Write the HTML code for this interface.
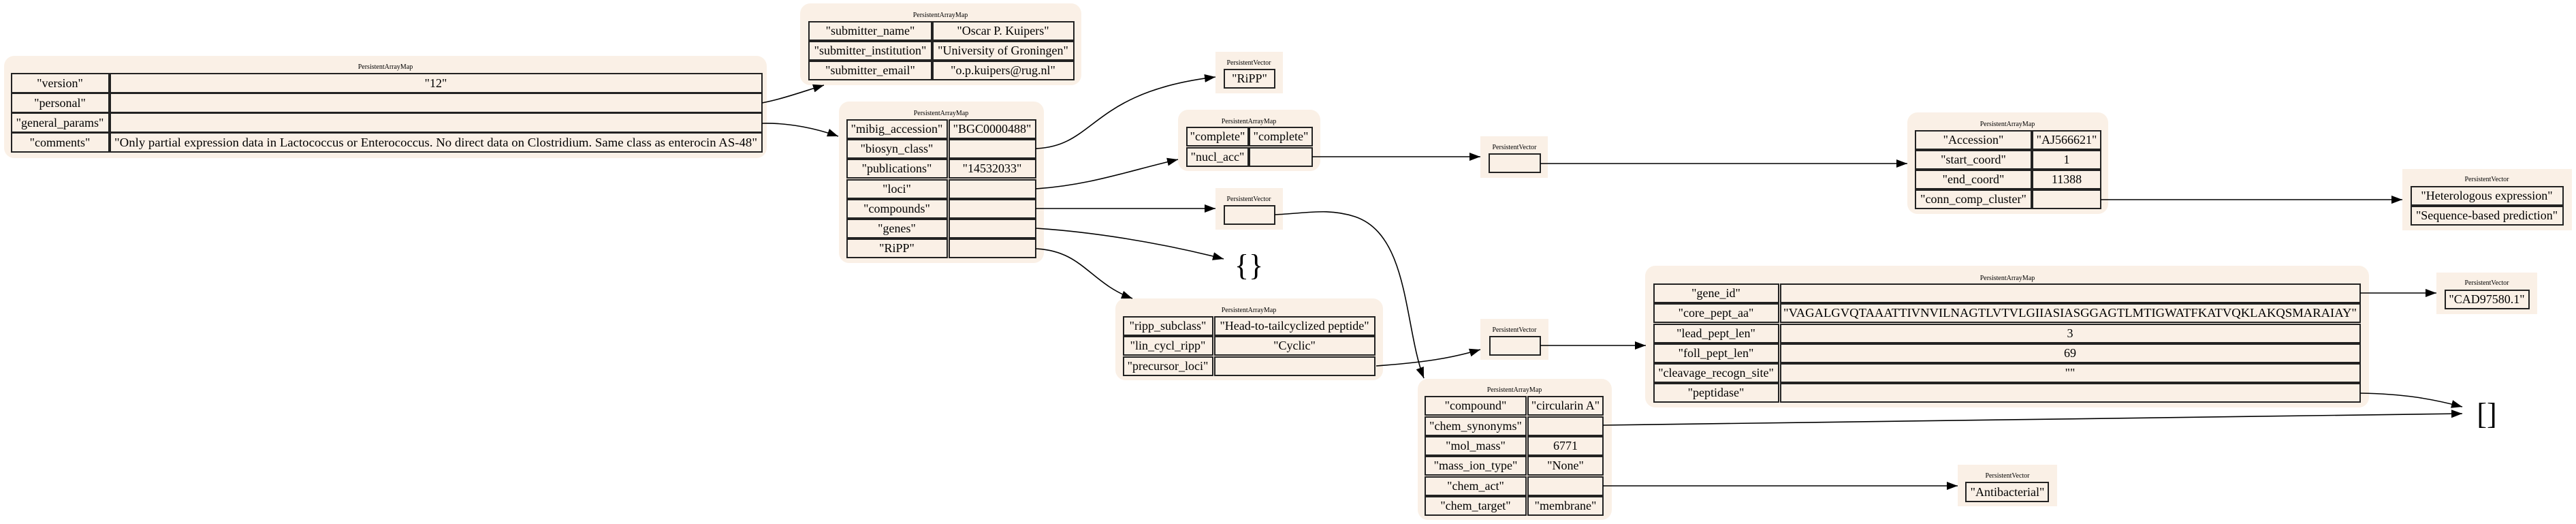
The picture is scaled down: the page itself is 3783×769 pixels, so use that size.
<!DOCTYPE html>
<html><head><meta charset="utf-8"><style>
html,body{margin:0;padding:0;background:#fff;width:3783px;height:769px;overflow:hidden}
svg{display:block}
text{font-family:"Liberation Serif",serif;fill:#000}
.t{font-size:10px}
.c{font-size:18px}
.bg{fill:#faf0e6}
.cell{fill:#faf0e6;stroke:#222;stroke-width:2}
.e{fill:none;stroke:#000;stroke-width:1.6}
</style></head><body>
<svg width="3783" height="769" viewBox="0 0 3783 769" xmlns="http://www.w3.org/2000/svg">
<defs><marker id="a" markerUnits="userSpaceOnUse" markerWidth="18" markerHeight="14" refX="16" refY="6" orient="auto"><path d="M0,0 L16,6 L0,12 z" fill="#000"/></marker></defs>

<!-- Box1 -->
<rect class="bg" x="6" y="82" width="1120" height="150" rx="15"/>
<text class="t" x="566" y="101" text-anchor="middle">PersistentArrayMap</text>
<rect class="cell" x="17" y="108" width="143" height="28"/><rect class="cell" x="162" y="108" width="957" height="28"/>
<rect class="cell" x="17" y="137" width="143" height="28"/><rect class="cell" x="162" y="137" width="957" height="28"/>
<rect class="cell" x="17" y="166" width="143" height="28"/><rect class="cell" x="162" y="166" width="957" height="28"/>
<rect class="cell" x="17" y="195" width="143" height="28"/><rect class="cell" x="162" y="195" width="957" height="28"/>
<text class="c" x="88" y="128" text-anchor="middle">"version"</text><text class="c" x="640" y="128" text-anchor="middle">"12"</text>
<text class="c" x="88" y="157" text-anchor="middle">"personal"</text>
<text class="c" x="88" y="186" text-anchor="middle">"general_params"</text>
<text class="c" x="88" y="215" text-anchor="middle">"comments"</text>
<text class="c" x="640" y="215" text-anchor="middle" textLength="944" lengthAdjust="spacingAndGlyphs">"Only partial  expression data in Lactococcus or Enterococcus. No direct data on Clostridium. Same class as enterocin AS-48"</text>

<!-- Box2 -->
<rect class="bg" x="1175" y="5" width="413" height="120" rx="15"/>
<text class="t" x="1381" y="25" text-anchor="middle">PersistentArrayMap</text>
<rect class="cell" x="1188" y="32" width="180" height="27"/><rect class="cell" x="1370" y="32" width="207" height="27"/>
<rect class="cell" x="1188" y="61" width="180" height="27"/><rect class="cell" x="1370" y="61" width="207" height="27"/>
<rect class="cell" x="1188" y="90" width="180" height="27"/><rect class="cell" x="1370" y="90" width="207" height="27"/>
<text class="c" x="1278" y="51" text-anchor="middle">"submitter_name"</text><text class="c" x="1473" y="51" text-anchor="middle">"Oscar P. Kuipers"</text>
<text class="c" x="1278" y="80" text-anchor="middle">"submitter_institution"</text><text class="c" x="1473" y="80" text-anchor="middle">"University of Groningen"</text>
<text class="c" x="1278" y="109" text-anchor="middle">"submitter_email"</text><text class="c" x="1473" y="109" text-anchor="middle">"o.p.kuipers@rug.nl"</text>

<!-- Box3 -->
<rect class="bg" x="1232" y="149" width="301" height="237" rx="15"/>
<text class="t" x="1382" y="169" text-anchor="middle">PersistentArrayMap</text>
<rect class="cell" x="1244" y="176" width="147" height="27"/><rect class="cell" x="1394" y="176" width="127" height="27"/>
<rect class="cell" x="1244" y="205" width="147" height="27"/><rect class="cell" x="1394" y="205" width="127" height="27"/>
<rect class="cell" x="1244" y="234" width="147" height="27"/><rect class="cell" x="1394" y="234" width="127" height="27"/>
<rect class="cell" x="1244" y="264" width="147" height="27"/><rect class="cell" x="1394" y="264" width="127" height="27"/>
<rect class="cell" x="1244" y="293" width="147" height="27"/><rect class="cell" x="1394" y="293" width="127" height="27"/>
<rect class="cell" x="1244" y="322" width="147" height="27"/><rect class="cell" x="1394" y="322" width="127" height="27"/>
<rect class="cell" x="1244" y="351" width="147" height="27"/><rect class="cell" x="1394" y="351" width="127" height="27"/>
<text class="c" x="1317" y="195" text-anchor="middle">"mibig_accession"</text><text class="c" x="1457" y="195" text-anchor="middle">"BGC0000488"</text>
<text class="c" x="1317" y="224" text-anchor="middle">"biosyn_class"</text>
<text class="c" x="1317" y="253" text-anchor="middle">"publications"</text><text class="c" x="1457" y="253" text-anchor="middle">"14532033"</text>
<text class="c" x="1317" y="283" text-anchor="middle">"loci"</text>
<text class="c" x="1317" y="312" text-anchor="middle">"compounds"</text>
<text class="c" x="1317" y="341" text-anchor="middle">"genes"</text>
<text class="c" x="1317" y="370" text-anchor="middle">"RiPP"</text>

<!-- RiPP vec -->
<rect class="bg" x="1785" y="76" width="99" height="61"/>
<text class="t" x="1834" y="95" text-anchor="middle">PersistentVector</text>
<rect class="cell" x="1798" y="102" width="74" height="27"/>
<text class="c" x="1835" y="121" text-anchor="middle">"RiPP"</text>

<!-- complete map -->
<rect class="bg" x="1730" y="161" width="209" height="90" rx="15"/>
<text class="t" x="1834" y="181" text-anchor="middle">PersistentArrayMap</text>
<rect class="cell" x="1743" y="187" width="90" height="27"/><rect class="cell" x="1835" y="187" width="92" height="27"/>
<rect class="cell" x="1743" y="217" width="90" height="27"/><rect class="cell" x="1835" y="217" width="92" height="27"/>
<text class="c" x="1788" y="206" text-anchor="middle">"complete"</text><text class="c" x="1881" y="206" text-anchor="middle">"complete"</text>
<text class="c" x="1788" y="236" text-anchor="middle">"nucl_acc"</text>

<!-- compounds vec -->
<rect class="bg" x="1785" y="276" width="99" height="61"/>
<text class="t" x="1834" y="295" text-anchor="middle">PersistentVector</text>
<rect class="cell" x="1798" y="302" width="74" height="27"/>

<text x="1834" y="404" text-anchor="middle" style="font-size:44px">{}</text>

<!-- ripp map -->
<rect class="bg" x="1638" y="438" width="393" height="120" rx="15"/>
<text class="t" x="1834" y="458" text-anchor="middle">PersistentArrayMap</text>
<rect class="cell" x="1650" y="465" width="131" height="27"/><rect class="cell" x="1784" y="465" width="235" height="27"/>
<rect class="cell" x="1650" y="494" width="131" height="27"/><rect class="cell" x="1784" y="494" width="235" height="27"/>
<rect class="cell" x="1650" y="524" width="131" height="27"/><rect class="cell" x="1784" y="524" width="235" height="27"/>
<text class="c" x="1715" y="484" text-anchor="middle">"ripp_subclass"</text><text class="c" x="1901" y="484" text-anchor="middle">"Head-to-tailcyclized peptide"</text>
<text class="c" x="1715" y="513" text-anchor="middle">"lin_cycl_ripp"</text><text class="c" x="1901" y="513" text-anchor="middle">"Cyclic"</text>
<text class="c" x="1715" y="543" text-anchor="middle">"precursor_loci"</text>

<!-- precursor vec -->
<rect class="bg" x="2174" y="468" width="100" height="60"/>
<text class="t" x="2224" y="487" text-anchor="middle">PersistentVector</text>
<rect class="cell" x="2188" y="494" width="74" height="27"/>

<!-- nucl vec -->
<rect class="bg" x="2174" y="200" width="99" height="61"/>
<text class="t" x="2224" y="219" text-anchor="middle">PersistentVector</text>
<rect class="cell" x="2187" y="226" width="75" height="27"/>

<!-- loci map -->
<rect class="bg" x="2801" y="165" width="295" height="149" rx="15"/>
<text class="t" x="2948" y="185" text-anchor="middle">PersistentArrayMap</text>
<rect class="cell" x="2813" y="192" width="170" height="27"/><rect class="cell" x="2985" y="192" width="100" height="27"/>
<rect class="cell" x="2813" y="221" width="170" height="27"/><rect class="cell" x="2985" y="221" width="100" height="27"/>
<rect class="cell" x="2813" y="250" width="170" height="27"/><rect class="cell" x="2985" y="250" width="100" height="27"/>
<rect class="cell" x="2813" y="279" width="170" height="27"/><rect class="cell" x="2985" y="279" width="100" height="27"/>
<text class="c" x="2898" y="211" text-anchor="middle">"Accession"</text><text class="c" x="3035" y="211" text-anchor="middle">"AJ566621"</text>
<text class="c" x="2898" y="240" text-anchor="middle">"start_coord"</text><text class="c" x="3035" y="240" text-anchor="middle">1</text>
<text class="c" x="2898" y="269" text-anchor="middle">"end_coord"</text><text class="c" x="3035" y="269" text-anchor="middle">11388</text>
<text class="c" x="2898" y="298" text-anchor="middle">"conn_comp_cluster"</text>

<!-- evidence vec -->
<rect class="bg" x="3528" y="248" width="249" height="90"/>
<text class="t" x="3652" y="266" text-anchor="middle">PersistentVector</text>
<rect class="cell" x="3541" y="274" width="223" height="27"/>
<rect class="cell" x="3541" y="303" width="223" height="27"/>
<text class="c" x="3652" y="293" text-anchor="middle">"Heterologous expression"</text>
<text class="c" x="3652" y="322" text-anchor="middle">"Sequence-based prediction"</text>

<!-- genes map -->
<rect class="bg" x="2416" y="390" width="1063" height="208" rx="15"/>
<text class="t" x="2948" y="411" text-anchor="middle">PersistentArrayMap</text>
<rect class="cell" x="2429" y="417" width="183" height="27"/><rect class="cell" x="2615" y="417" width="851" height="27"/>
<rect class="cell" x="2429" y="446" width="183" height="27"/><rect class="cell" x="2615" y="446" width="851" height="27"/>
<rect class="cell" x="2429" y="476" width="183" height="27"/><rect class="cell" x="2615" y="476" width="851" height="27"/>
<rect class="cell" x="2429" y="505" width="183" height="27"/><rect class="cell" x="2615" y="505" width="851" height="27"/>
<rect class="cell" x="2429" y="534" width="183" height="27"/><rect class="cell" x="2615" y="534" width="851" height="27"/>
<rect class="cell" x="2429" y="563" width="183" height="27"/><rect class="cell" x="2615" y="563" width="851" height="27"/>
<text class="c" x="2520" y="436" text-anchor="middle">"gene_id"</text>
<text class="c" x="2520" y="465" text-anchor="middle">"core_pept_aa"</text>
<text class="c" x="3040" y="465" text-anchor="middle" textLength="842" lengthAdjust="spacingAndGlyphs">"VAGALGVQTAAATTIVNVILNAGTLVTVLGIIASIASGGAGTLMTIGWATFKATVQKLAKQSMARAIAY"</text>
<text class="c" x="2520" y="495" text-anchor="middle">"lead_pept_len"</text><text class="c" x="3040" y="495" text-anchor="middle">3</text>
<text class="c" x="2520" y="524" text-anchor="middle">"foll_pept_len"</text><text class="c" x="3040" y="524" text-anchor="middle">69</text>
<text class="c" x="2520" y="553" text-anchor="middle">"cleavage_recogn_site"</text><text class="c" x="3040" y="553" text-anchor="middle">""</text>
<text class="c" x="2520" y="582" text-anchor="middle">"peptidase"</text>

<!-- CAD vec -->
<rect class="bg" x="3578" y="400" width="148" height="61"/>
<text class="t" x="3652" y="418" text-anchor="middle">PersistentVector</text>
<rect class="cell" x="3591" y="426" width="123" height="27"/>
<text class="c" x="3652" y="445" text-anchor="middle">"CAD97580.1"</text>

<text x="3652" y="622" text-anchor="middle" style="font-size:44px">[]</text>

<!-- compound map -->
<rect class="bg" x="2082" y="556" width="285" height="207" rx="15"/>
<text class="t" x="2224" y="575" text-anchor="middle">PersistentArrayMap</text>
<rect class="cell" x="2093" y="582" width="148" height="27"/><rect class="cell" x="2244" y="582" width="110" height="27"/>
<rect class="cell" x="2093" y="612" width="148" height="27"/><rect class="cell" x="2244" y="612" width="110" height="27"/>
<rect class="cell" x="2093" y="641" width="148" height="27"/><rect class="cell" x="2244" y="641" width="110" height="27"/>
<rect class="cell" x="2093" y="670" width="148" height="27"/><rect class="cell" x="2244" y="670" width="110" height="27"/>
<rect class="cell" x="2093" y="700" width="148" height="27"/><rect class="cell" x="2244" y="700" width="110" height="27"/>
<rect class="cell" x="2093" y="729" width="148" height="27"/><rect class="cell" x="2244" y="729" width="110" height="27"/>
<text class="c" x="2167" y="601" text-anchor="middle">"compound"</text><text class="c" x="2299" y="601" text-anchor="middle">"circularin A"</text>
<text class="c" x="2167" y="631" text-anchor="middle">"chem_synonyms"</text>
<text class="c" x="2167" y="660" text-anchor="middle">"mol_mass"</text><text class="c" x="2299" y="660" text-anchor="middle">6771</text>
<text class="c" x="2167" y="689" text-anchor="middle">"mass_ion_type"</text><text class="c" x="2299" y="689" text-anchor="middle">"None"</text>
<text class="c" x="2167" y="719" text-anchor="middle">"chem_act"</text>
<text class="c" x="2167" y="748" text-anchor="middle">"chem_target"</text><text class="c" x="2299" y="748" text-anchor="middle">"membrane"</text>

<!-- Antibacterial vec -->
<rect class="bg" x="2875" y="682" width="146" height="61"/>
<text class="t" x="2948" y="701" text-anchor="middle">PersistentVector</text>
<rect class="cell" x="2887" y="708" width="121" height="28"/>
<text class="c" x="2948" y="728" text-anchor="middle">"Antibacterial"</text>

<!-- edges -->
<path class="e" marker-end="url(#a)" d="M1119,151 C1150,145 1180,134 1210,125"/>
<path class="e" marker-end="url(#a)" d="M1119,181 C1160,180 1200,189 1231,200"/>
<path class="e" marker-end="url(#a)" d="M1521,218 C1610,215 1600,135 1785,113"/>
<path class="e" marker-end="url(#a)" d="M1521,277 C1600,272 1660,250 1730,234"/>
<path class="e" marker-end="url(#a)" d="M1521,306 L1785,306"/>
<path class="e" marker-end="url(#a)" d="M1521,335 C1600,340 1700,355 1797,380"/>
<path class="e" marker-end="url(#a)" d="M1521,365 C1590,368 1600,415 1663,438"/>
<path class="e" marker-end="url(#a)" d="M1872,315 C1920,313 1950,305 1990,318 C2070,345 2062,480 2091,555"/>
<path class="e" marker-end="url(#a)" d="M1927,230 L2174,230"/>
<path class="e" marker-end="url(#a)" d="M2262,240 L2801,240"/>
<path class="e" marker-end="url(#a)" d="M3085,293 L3528,293"/>
<path class="e" marker-end="url(#a)" d="M2021,537 C2090,532 2130,526 2174,513"/>
<path class="e" marker-end="url(#a)" d="M2262,507 L2417,507"/>
<path class="e" marker-end="url(#a)" d="M3466,430 L3578,430"/>
<path class="e" marker-end="url(#a)" d="M3466,577 C3530,578 3570,585 3616,597"/>
<path class="e" marker-end="url(#a)" d="M2354,624 L3616,607"/>
<path class="e" marker-end="url(#a)" d="M2354,713 L2875,713"/>
</svg>
</body></html>
